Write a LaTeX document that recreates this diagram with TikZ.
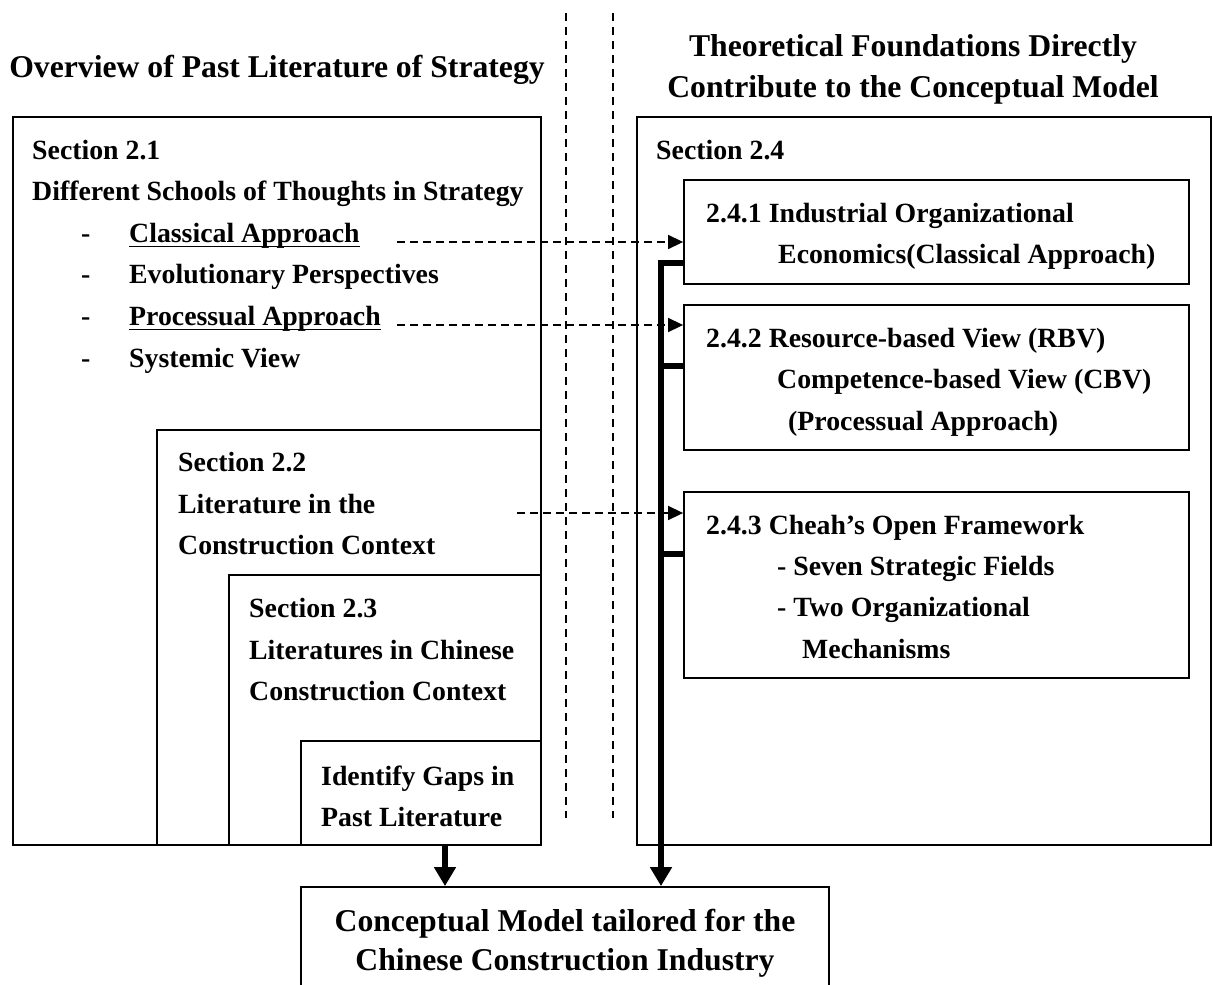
\documentclass[tikz,border=0pt]{standalone}
\usepackage{fontspec}
\setmainfont{Liberation Serif}
\usetikzlibrary{arrows.meta,fit}
\begin{document}
\begin{tikzpicture}[x=1pt,y=-1pt,
  box/.style={draw, line width=1.8pt, inner sep=0pt},
  txt/.style={inner sep=0pt, anchor=base west, font=\bfseries\fontsize{27.8}{41}\selectfont},
  ttl/.style={inner sep=0pt, anchor=base, font=\bfseries\fontsize{31.7}{38}\selectfont},
  sep/.style={line width=1.3pt, dash pattern=on 8pt off 6pt},
  dasharr/.style={line width=1.5pt, dash pattern=on 8pt off 5pt, -{Triangle[width=14pt,length=15pt]}},
  fat/.style={line width=6.7pt},
  fatarr/.style={line width=6.7pt, -{Triangle[width=21pt,length=19pt]}},
  uline/.style={line width=1.8pt}]
\useasboundingbox (0,0) rectangle (1213,985);

% separators
\coordinate (v1a) at (566,13); \coordinate (v1b) at (566,818);
\coordinate (v2a) at (613,13); \coordinate (v2b) at (613,818);
\draw[sep] (v1a) -- (v1b);
\draw[sep] (v2a) -- (v2b);

% titles
\node[ttl] (tl) at (277,77) {Overview of Past Literature of Strategy};
\node[ttl] (tr1) at (913,56) {Theoretical Foundations Directly};
\node[ttl] (tr2) at (913,97) {Contribute to the Conceptual Model};

% left boxes
\node[box, fit={(13,117) (541,845)}] (b21) {};
\node[box, fit={(157,430) (541,845)}] (b22) {};
\node[box, fit={(229,575) (541,845)}] (b23) {};
\node[box, fit={(301,741) (541,845)}] (gaps) {};

% right boxes
\node[box, fit={(637,117) (1211,845)}] (b24) {};
\node[box, fit={(684,180) (1189,284)}] (b241) {};
\node[box, fit={(684,305) (1189,450)}] (b242) {};
\node[box, fit={(684,492) (1189,678)}] (b243) {};

% conceptual model box
\node[box, fit={(301,887) (829,990)}] (concept) {};

% left texts
\node[txt] (s21) at (32,159) {Section 2.1};
\node[txt] (s21t) at (32,200) {Different Schools of Thoughts in Strategy};
\node[txt] (d1) at (81,242) {-};
\node[txt] (d2) at (81,283) {-};
\node[txt] (d3) at (81,325) {-};
\node[txt] (d4) at (81,367) {-};
\node[txt] (cl) at (129,242) {Classical Approach};
\node[txt] (ev) at (129,283) {Evolutionary Perspectives};
\node[txt] (pr) at (129,325) {Processual Approach};
\node[txt] (sy) at (129,367) {Systemic View};
\draw[uline] ([yshift=-4.5pt]cl.base west) -- ([yshift=-4.5pt]cl.base east);
\draw[uline] ([yshift=-4.5pt]pr.base west) -- ([yshift=-4.5pt]pr.base east);

\node[txt] (s22) at (178,471) {Section 2.2};
\node[txt] (s22a) at (178,513) {Literature in the};
\node[txt] (s22b) at (178,554) {Construction Context};

\node[txt] (s23) at (249,617) {Section 2.3};
\node[txt] (s23a) at (249,659) {Literatures in Chinese};
\node[txt] (s23b) at (249,700) {Construction Context};

\node[txt] (g1) at (321,785) {Identify Gaps in};
\node[txt] (g2) at (321,826) {Past Literature};

% right texts
\node[txt] (s24) at (656,159) {Section 2.4};
\node[txt] (r1a) at (706,222) {2.4.1 Industrial Organizational};
\node[txt] (r1b) at (778,263) {Economics(Classical Approach)};
\node[txt] (r2a) at (706,347) {2.4.2 Resource-based View (RBV)};
\node[txt] (r2b) at (777,388) {Competence-based View (CBV)};
\node[txt] (r2c) at (788,430) {(Processual Approach)};
\node[txt] (r3a) at (706,534) {2.4.3 Cheah’s Open Framework};
\node[txt] (r3b) at (777,575) {- Seven Strategic Fields};
\node[txt] (r3c) at (777,616) {- Two Organizational};
\node[txt] (r3d) at (802,658) {Mechanisms};

% conceptual text
\node[ttl] (c1) at (565,931) {Conceptual Model tailored for the};
\node[ttl] (c2) at (565,970) {Chinese Construction Industry};

% dashed arrows
\coordinate (da1) at (397,242);
\coordinate (da2) at (397,325);
\coordinate (da3) at (517,513);
\draw[dasharr] (da1) -- (da1 -| b241.west);
\draw[dasharr] (da2) -- (da2 -| b242.west);
\draw[dasharr] (da3) -- (da3 -| b243.west);

% thick trunk
\coordinate (tr) at (661,263);
\draw[fat] ([yshift=-31pt]b241.west) -- (tr);
\draw[fatarr] ([yshift=3.35pt]tr) -- (tr |- concept.north);
\draw[fat] ([yshift=11.5pt]b242.west) -- ([yshift=11.5pt]b242.west -| tr);
\draw[fat] ([yshift=31pt]b243.west) -- ([yshift=31pt]b243.west -| tr);

% left thick arrow
\draw[fatarr] ([xshift=24pt]gaps.south) -- ([xshift=24pt]gaps.south |- concept.north);
\end{tikzpicture}
\end{document}
